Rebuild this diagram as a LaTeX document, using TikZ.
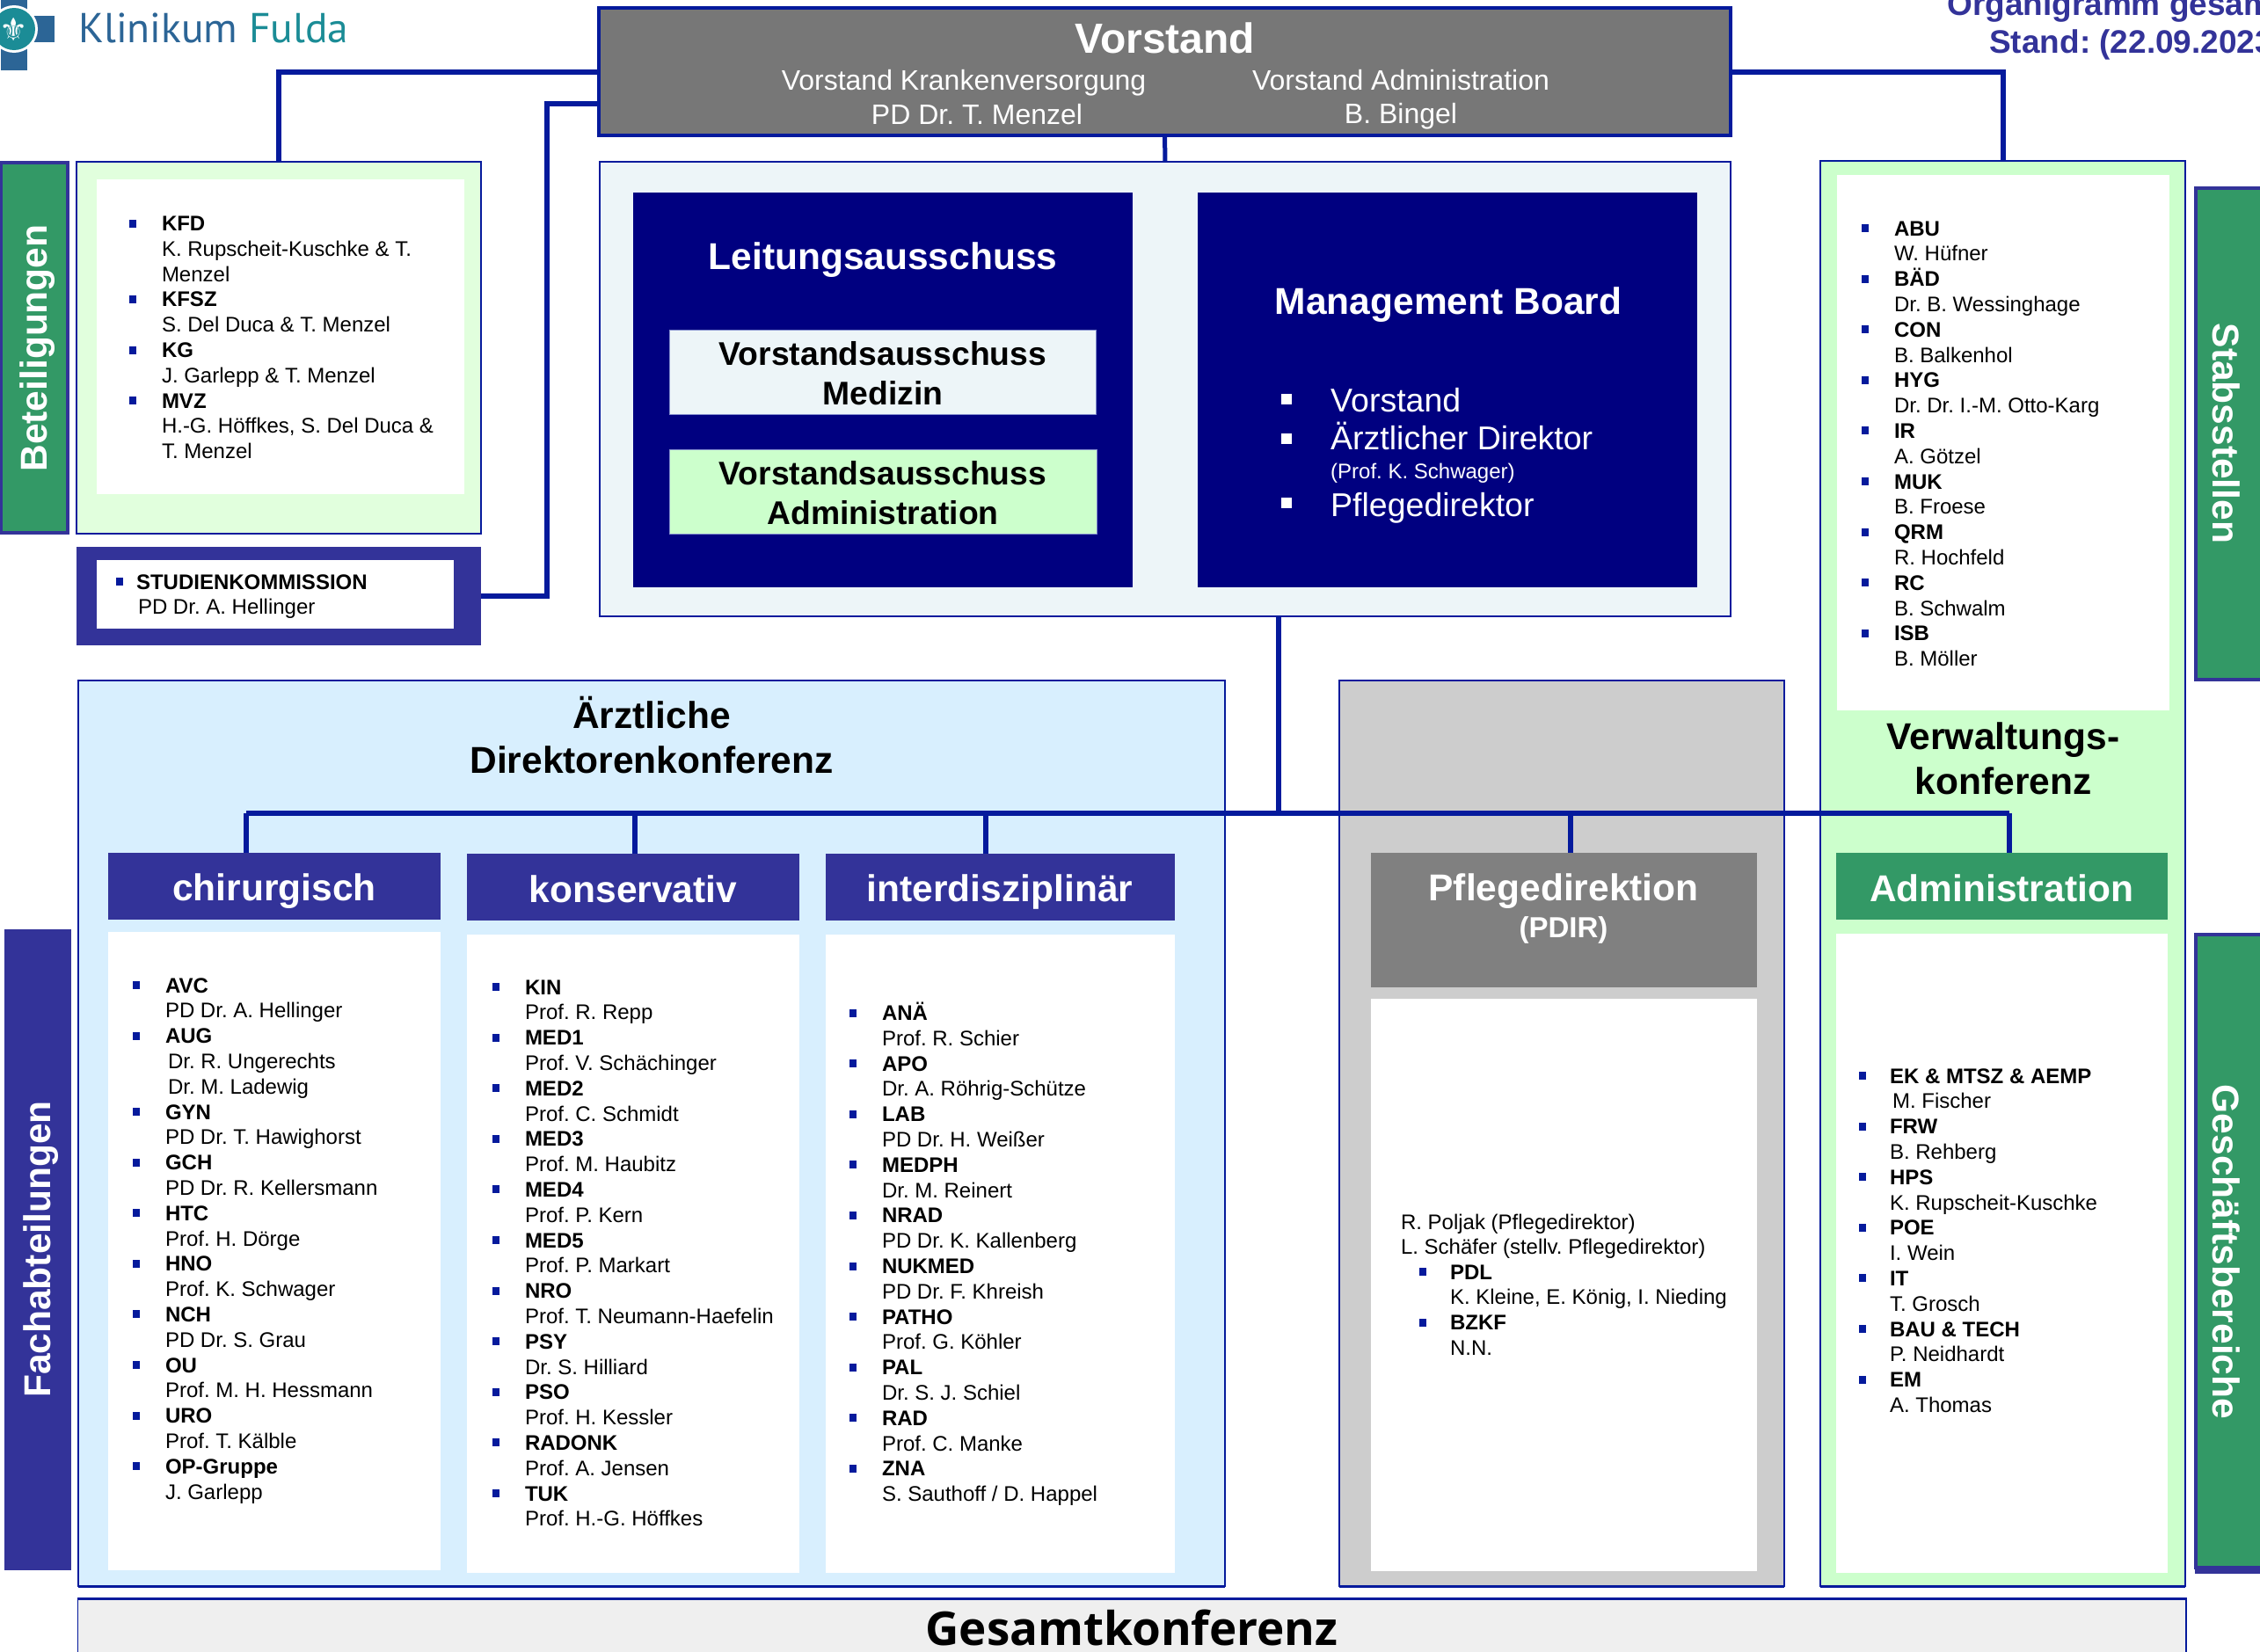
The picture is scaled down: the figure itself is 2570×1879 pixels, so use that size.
\documentclass[tikz,border=0pt]{standalone}
\usepackage{fontspec}
\setmainfont{Liberation Sans}
\newfontfamily\gesamtfont{Open Sans}
\newfontfamily\symfont{DejaVu Sans}
\newfontfamily\logofont{PT Sans}
\frenchspacing
\definecolor{linkblue}{HTML}{051A9C}
\definecolor{indigo}{HTML}{333399}
\definecolor{navy}{HTML}{000080}
\definecolor{sgreen}{HTML}{339966}
\definecolor{mintbg}{HTML}{CCFFCC}
\definecolor{palemint}{HTML}{E1FFDD}
\definecolor{iceb}{HTML}{EDF5F8}
\definecolor{skyb}{HTML}{D8EFFE}
\definecolor{greyb}{HTML}{CDCDCD}
\definecolor{vgrey}{HTML}{777777}
\definecolor{hgrey}{HTML}{808080}
\definecolor{gesbg}{HTML}{EFEFEF}
\definecolor{logoblue}{HTML}{2C6596}
\definecolor{logoteal}{HTML}{1B8C96}
\newcommand\mybu[2][37]{\makebox[0pt][l]{\kern-#1pt\textcolor{linkblue}{\rule[4pt]{8pt}{9pt}}}\textbf{#2}}
\newcommand\mybox[6]{\node[#1,minimum width={#5pt-#3pt},minimum height={#6pt-#4pt},inner sep=0pt,outer sep=0pt] (#2) at ({(#3+#5)/2},{(#4+#6)/2}) {};}
\newcommand\mylist[4]{\node[listtext] (#1) at (#2,{#3-12}) {\rule{0pt}{20pt}#4};}
\tikzset{
 x=1pt,y=-1pt,
 listtext/.style={anchor=north west,inner sep=0pt,outer sep=0pt,align=left,font=\fontsize{24}{28.8}\selectfont,text=black},
 plainbox/.style={fill=#1},
 edgebox/.style={fill=#1,draw=linkblue,line width=2pt},
 barbox/.style={fill=#1,draw=indigo,line width=3.5pt},
 conn/.style={draw=linkblue,line width=6pt},
 thickedge/.style={draw=linkblue,line width=3pt},
 whitehead/.style={text=white,font=\fontsize{42.5}{50}\selectfont\bfseries,inner sep=0pt,align=center},
 blackhead/.style={text=black,font=\fontsize{42.5}{51}\selectfont\bfseries,inner sep=0pt,align=center},
 vsub/.style={text=white,font=\fontsize{32}{38}\selectfont,inner sep=0pt,align=center},
 subhead/.style={text=black,font=\fontsize{37.3}{45}\selectfont\bfseries,inner sep=0pt,align=center},
 mblist/.style={text=white,font=\fontsize{37.5}{40}\selectfont,inner sep=0pt,anchor=west},
 titletext/.style={text=indigo,font=\fontsize{37}{43}\selectfont\bfseries,inner sep=0pt,anchor=base west},
}
\begin{document}
\begin{tikzpicture}
\useasboundingbox (0,0) rectangle (2570,1879);
% logo
\fill[logoblue] (1,0) rectangle (31,80);
\fill[logoblue] (16,18) rectangle (62,48);
\fill[white] (16,33) circle (27);
\fill[logoteal] (16,33) circle (24);
\node[text=white,font=\symfont\fontsize{36}{36}\selectfont,inner sep=0pt] (lis) at (16,33) {⚜};
\node[anchor=base west,inner sep=0pt,font=\logofont\fontsize{47.5}{48}\selectfont] (logotext) at (89,48) {\textcolor{logoblue}{Klinikum} \textcolor{logoteal}{Fulda}};
% title
\node[titletext] (title1) at (2214,17) {Organigramm gesamt};
\node[titletext] (title2) at (2262,60) {Stand: (22.09.2023)};
% upper boxes
\mybox{edgebox=vgrey,line width=3.5pt}{vorstand}{681}{9}{1968}{154}
\mybox{edgebox=iceb}{gremien}{682}{184}{1968}{701}
\mybox{plainbox=navy}{leitung}{720}{219}{1288}{668}
\mybox{plainbox=navy}{board}{1362}{219}{1930}{668}
\mybox{plainbox=iceb,draw=linkblue!50,line width=1pt}{vamed}{761}{375}{1246}{471}
\mybox{plainbox=mintbg,draw=linkblue!50,line width=1pt}{vaadm}{761}{511}{1247}{607}
\node[text=white,font=\fontsize{48}{50}\selectfont\bfseries,inner sep=0pt] (vtitle) at (1325,43) {Vorstand};
\node[vsub] (vk) at (1096,94) {Vorstand Krankenversorgung};
\node[vsub] (vkn) at (1111,130) {PD Dr. T. Menzel};
\node[vsub] (va) at (1593,91) {Vorstand Administration};
\node[vsub] (van) at (1593,132) {B. Bingel};
\node[whitehead] (ltitle) at (1004,296) {Leitungsausschuss};
\node[subhead] (vamedt) at (1004,425) {Vorstandsausschuss\\Medizin};
\node[subhead] (vaadmt) at (1004,561) {Vorstandsausschuss\\Administration};
\node[whitehead] (mbtitle) at (1647,347) {Management Board};
\fill[white] (1457,448) rectangle (1469,460);
\fill[white] (1457,493) rectangle (1469,505);
\fill[white] (1457,566) rectangle (1469,578);
\node[mblist] (mb1) at (1513,455) {Vorstand};
\node[mblist] (mb2) at (1513,496) {Ärztlicher Direktor};
\node[mblist,font=\fontsize{24}{28}\selectfont] (mb3) at (1513,538.5) {(Prof. K. Schwager)};
\node[mblist] (mb4) at (1513,578) {Pflegedirektor};
% Beteiligungen
\mybox{barbox=sgreen}{betbar}{1}{185}{77}{606}
\node[whitehead,rotate=90] (bett) at (43,396) {Beteiligungen};
\mybox{edgebox=palemint}{kfdouter}{87}{184}{547}{607}
\mybox{plainbox=white}{kfdinner}{110}{204}{528}{562}
\mylist{kfdlist}{184}{254.5}{\mybu{KFD}\\K. Rupscheit-Kuschke \& T.\\Menzel\\\mybu{KFSZ}\\S. Del Duca \& T. Menzel\\\mybu{KG}\\J. Garlepp \& T. Menzel\\\mybu{MVZ}\\H.-G. Höffkes, S. Del Duca \&\\T. Menzel}
\mybox{plainbox=indigo}{stud}{87}{622}{547}{734}
\mybox{plainbox=white}{studinner}{110}{637}{516}{715}
\mylist{studlist}{155}{662}{\mybu[23]{STUDIENKOMMISSION}\\\hspace*{2pt}PD Dr. A. Hellinger}
% Verwaltung / Stabsstellen
\mybox{edgebox=mintbg}{verw}{2070}{183}{2485}{1804}
\mybox{plainbox=white}{verwinner}{2089}{199}{2467}{808}
\mybox{barbox=sgreen}{stabbar}{2497}{214}{2590}{773}
\node[whitehead,rotate=-90] (stabt) at (2532,493) {Stabsstellen};
\mylist{verwlist}{2154}{260}{\mybu{ABU}\\W. Hüfner\\\mybu{BÄD}\\Dr. B. Wessinghage\\\mybu{CON}\\B. Balkenhol\\\mybu{HYG}\\Dr. Dr. I.-M. Otto-Karg\\\mybu{IR}\\A. Götzel\\\mybu{MUK}\\B. Froese\\\mybu{QRM}\\R. Hochfeld\\\mybu{RC}\\B. Schwalm\\\mybu{ISB}\\B. Möller}
\node[blackhead] (verwt) at (2278,863) {Verwaltungs-\\konferenz};
% Aerztliche
\mybox{edgebox=skyb}{aerzt}{88.5}{774}{1393}{1804}
\node[blackhead] (aerztt) at (741,836.5) {Ärztliche\\Direktorenkonferenz};
\mybox{edgebox=greyb}{pflouter}{1523}{774}{2029}{1804}
\mybox{plainbox=indigo}{facbar}{5}{1057}{81}{1786}
\node[whitehead,rotate=90] (fact) at (47,1421) {Fachabteilungen};
% columns
\mybox{plainbox=indigo}{chir}{123}{970}{501}{1046}
\mybox{plainbox=white}{chirw}{123}{1060}{501}{1786}
\mybox{plainbox=indigo}{kons}{531}{971}{909}{1047}
\mybox{plainbox=white}{konsw}{531}{1063}{909}{1789}
\mybox{plainbox=indigo}{inter}{939}{971}{1336}{1047}
\mybox{plainbox=white}{interw}{939}{1063}{1336}{1789}
\mybox{plainbox=hgrey}{pfl}{1559}{970}{1998}{1123}
\mybox{plainbox=white}{pflw}{1559}{1136}{1998}{1787}
\mybox{plainbox=sgreen}{adm}{2088}{970}{2465}{1046}
\mybox{plainbox=white}{admw}{2088}{1062}{2465}{1789}
\mybox{plainbox=indigo}{gesshadow}{2496}{1775}{2590}{1790}
\mybox{barbox=sgreen}{gesbar}{2497}{1063}{2590}{1783}
\node[whitehead,rotate=-90] (gest) at (2532,1424) {Geschäftsbereiche};
\node[whitehead] (chirt) at (312,1014) {chirurgisch};
\node[whitehead] (konst) at (720,1011) {konservativ};
\node[whitehead] (intert) at (1137,1014) {interdisziplinär};
\node[whitehead] (pflt) at (1778,1014) {Pflegedirektion};
\node[text=white,font=\fontsize{33}{38}\selectfont\bfseries,inner sep=0pt] (pflsub) at (1778,1058) {(PDIR)};
\node[whitehead] (admt) at (2276,1010) {Administration};
\mylist{chirlist}{188}{1121}{\mybu{AVC}\\PD Dr. A. Hellinger\\\mybu{AUG}\\\hspace*{3pt}Dr. R. Ungerechts\\\hspace*{3pt}Dr. M. Ladewig\\\mybu{GYN}\\PD Dr. T. Hawighorst\\\mybu{GCH}\\PD Dr. R. Kellersmann\\\mybu{HTC}\\Prof. H. Dörge\\\mybu{HNO}\\Prof. K. Schwager\\\mybu{NCH}\\PD Dr. S. Grau\\\mybu{OU}\\Prof. M. H. Hessmann\\\mybu{URO}\\Prof. T. Kälble\\\mybu{OP-Gruppe}\\J. Garlepp}
\mylist{konslist}{597}{1123}{\mybu{KIN}\\Prof. R. Repp\\\mybu{MED1}\\Prof. V. Schächinger\\\mybu{MED2}\\Prof. C. Schmidt\\\mybu{MED3}\\Prof. M. Haubitz\\\mybu{MED4}\\Prof. P. Kern\\\mybu{MED5}\\Prof. P. Markart\\\mybu{NRO}\\Prof. T. Neumann-Haefelin\\\mybu{PSY}\\Dr. S. Hilliard\\\mybu{PSO}\\Prof. H. Kessler\\\mybu{RADONK}\\Prof. A. Jensen\\\mybu{TUK}\\Prof. H.-G. Höffkes}
\mylist{interlist}{1003}{1152}{\mybu{ANÄ}\\Prof. R. Schier\\\mybu{APO}\\Dr. A. Röhrig-Schütze\\\mybu{LAB}\\PD Dr. H. Weißer\\\mybu{MEDPH}\\Dr. M. Reinert\\\mybu{NRAD}\\PD Dr. K. Kallenberg\\\mybu{NUKMED}\\PD Dr. F. Khreish\\\mybu{PATHO}\\Prof. G. Köhler\\\mybu{PAL}\\Dr. S. J. Schiel\\\mybu{RAD}\\Prof. C. Manke\\\mybu{ZNA}\\S. Sauthoff / D. Happel}
\mylist{pfltop}{1593}{1390}{R. Poljak (Pflegedirektor)\\L. Schäfer (stellv. Pflegedirektor)}
\mylist{pfllist}{1649}{1447}{\mybu[35]{PDL}\\K. Kleine, E. König, I. Nieding\\\mybu[35]{BZKF}\\N.N.}
\mylist{admlist}{2149}{1224}{\mybu[35]{EK \& MTSZ \& AEMP}\\\hspace*{3pt}M. Fischer\\\mybu[35]{FRW}\\B. Rehberg\\\mybu[35]{HPS}\\K. Rupscheit-Kuschke\\\mybu[35]{POE}\\I. Wein\\\mybu[35]{IT}\\T. Grosch\\\mybu[35]{BAU \& TECH}\\P. Neidhardt\\\mybu[35]{EM}\\A. Thomas}
% Gesamtkonferenz
\mybox{edgebox=gesbg,line width=1.5pt}{ges}{88.5}{1818}{2486}{1895}
\node[text=black,font=\gesamtfont\fontsize{53}{60}\selectfont\bfseries,inner sep=0pt] (gest2) at (1287,1851) {Gesamtkonferenz};
% thick edges
\draw[thickedge] (aerzt.south west) -- (aerzt.south east);
\draw[thickedge] (pflouter.south west) -- (pflouter.south east);
\draw[thickedge] (verw.south west) -- (verw.south east);
\draw[thickedge] (ges.north west) -- (ges.north east);
% connectors
\coordinate (cstud) at (622,118);
\coordinate (busjoin) at (1454,925);
\coordinate (busl) at (280,925);
\coordinate (busr) at (2285,925);
\coordinate (buskons) at (722,925);
\coordinate (businter) at (1121,925);
\coordinate (buspfl) at (1786,925);
\draw[conn] (vorstand.west) -| (kfdouter.north);
\draw[conn] (vorstand.east) -| (verw.north);
\draw[conn] (stud.east) -| (cstud) -- (cstud -| vorstand.west);
\draw[conn,line width=5pt] (vorstand.south) -- (gremien.north);
\draw[conn] (gremien.south -| busjoin) -- (busjoin);
\draw[conn] (busl) -- (busr);
\draw[conn] (busl) -- (busl |- chir.north);
\draw[conn] (buskons) -- (buskons |- kons.north);
\draw[conn] (businter) -- (businter |- inter.north);
\draw[conn] (buspfl) -- (buspfl |- pfl.north);
\draw[conn] (busr) -- (busr |- adm.north);
\end{tikzpicture}
\end{document}
